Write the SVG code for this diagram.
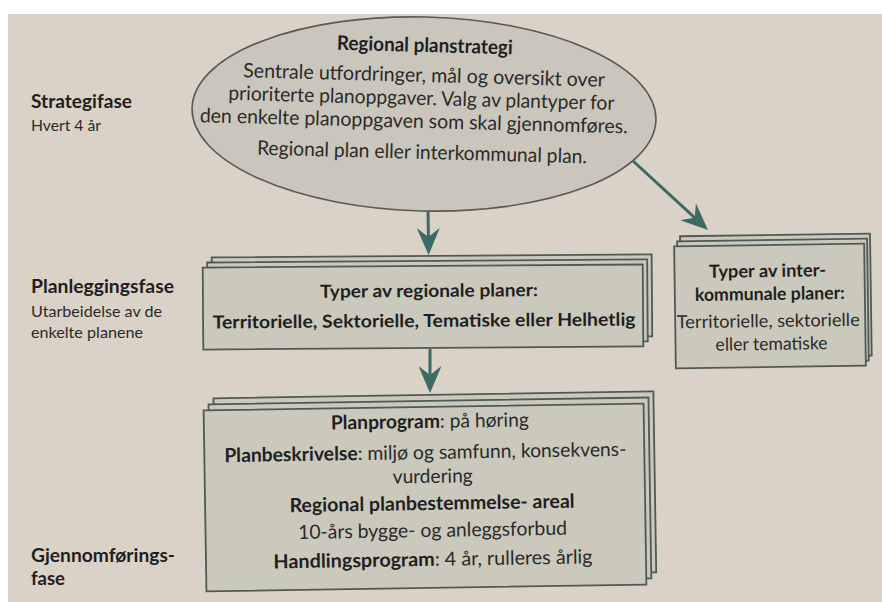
<svg xmlns="http://www.w3.org/2000/svg" width="882" height="602" viewBox="0 0 882 602">
  <style>
    .page { fill: #dad2c6; }
    .card { fill: #cbc8bc; stroke: #4f5a55; stroke-width: 1.8; }
    .oval { fill: #cac6bb; stroke: #5a5a56; stroke-width: 1.6; }
    .link { fill: none; stroke: #3c6a64; stroke-width: 3; }
    .t { font-family: Lato, "Open Sans", "Liberation Sans", sans-serif; fill: #262626; }
    .b { font-weight: 700; fill: #1f1f1f; }
    .r { font-weight: 400; fill: #2a2a2a; }
    .mid { text-anchor: middle; }
    .side { font-size: 16px; }
    .sideb { font-size: 18px; }
    .box { font-size: 18px; }
    .doc { font-size: 19.5px; }
    .ell { font-size: 20px; }
  </style>
  <defs>
    <marker id="head" markerUnits="userSpaceOnUse" markerWidth="27" markerHeight="23" viewBox="0 0 27 23" refX="17" refY="11.5" orient="auto">
      <path d="M0,0 L27,11.5 L0,23 L9,11.5 Z" fill="#3c6a64"/>
    </marker>
  </defs>

  <!-- paper -->
  <rect x="0" y="0" width="882" height="602" fill="#ffffff"/>
  <rect class="page" x="8" y="14" width="874" height="588"/>

  <!-- phase labels -->
  <g id="phase-strategy" class="t">
    <text class="b sideb" x="31" y="108" textLength="101" lengthAdjust="spacingAndGlyphs">Strategifase</text>
    <text class="r side" x="31" y="131" textLength="70" lengthAdjust="spacingAndGlyphs">Hvert 4 år</text>
  </g>
  <g id="phase-planning" class="t">
    <text class="b sideb" x="31" y="293" textLength="143" lengthAdjust="spacingAndGlyphs">Planleggingsfase</text>
    <text class="r side" x="31" y="317" textLength="131" lengthAdjust="spacingAndGlyphs">Utarbeidelse av de</text>
    <text class="r side" x="31" y="338" textLength="112" lengthAdjust="spacingAndGlyphs">enkelte planene</text>
  </g>
  <g id="phase-execution" class="t">
    <text class="b sideb" x="31" y="562" textLength="144" lengthAdjust="spacingAndGlyphs">Gjennomførings-</text>
    <text class="b sideb" x="31" y="585" textLength="34" lengthAdjust="spacingAndGlyphs">fase</text>
  </g>

  <!-- connectors -->
  <g id="connectors">
    <path class="link" d="M428,209 L428.5,245" marker-end="url(#head)"/>
    <path class="link" d="M430,349 L430,383" marker-end="url(#head)"/>
    <path class="link" d="M632,160 L700.6,223.2" marker-end="url(#head)"/>
  </g>

  <!-- regional plan strategy -->
  <g id="node-strategy" transform="rotate(1.5 424 114)">
    <ellipse class="oval" cx="424" cy="114" rx="232" ry="97"/>
    <g class="t mid">
      <text class="b ell" x="423" y="52" textLength="176" lengthAdjust="spacingAndGlyphs">Regional planstrategi</text>
      <text class="r ell" x="423" y="82" textLength="362" lengthAdjust="spacingAndGlyphs">Sentrale utfordringer, mål og oversikt over</text>
      <text class="r ell" x="421" y="105" textLength="386" lengthAdjust="spacingAndGlyphs">prioriterte planoppgaver. Valg av plantyper for</text>
      <text class="r ell" x="414" y="128" textLength="428" lengthAdjust="spacingAndGlyphs">den enkelte planoppgaven som skal gjennomføres.</text>
      <text class="r ell" x="423" y="159" textLength="330" lengthAdjust="spacingAndGlyphs">Regional plan eller interkommunal plan.</text>
    </g>
  </g>

  <!-- regional plan types -->
  <g id="node-regional-types" transform="rotate(-0.4 424 307)">
    <rect class="card" x="212" y="256" width="440" height="82"/>
    <rect class="card" x="207.5" y="261" width="440" height="82"/>
    <rect class="card" x="203" y="266" width="440" height="82"/>
    <g class="t mid b box">
      <text x="429" y="297" textLength="218" lengthAdjust="spacingAndGlyphs">Typer av regionale planer:</text>
      <text x="424" y="327" textLength="423" lengthAdjust="spacingAndGlyphs">Territorielle, Sektorielle, Tematiske eller Helhetlig</text>
    </g>
  </g>

  <!-- inter-municipal plan types -->
  <g id="node-intermunicipal-types" transform="rotate(-0.8 770 306)">
    <rect class="card" x="681" y="235" width="190" height="122"/>
    <rect class="card" x="678" y="240" width="190" height="122"/>
    <rect class="card" x="675" y="245" width="190" height="122"/>
    <g class="t mid box">
      <text class="b" x="768" y="277" textLength="117" lengthAdjust="spacingAndGlyphs">Typer av inter-</text>
      <text class="b" x="770" y="300" textLength="150" lengthAdjust="spacingAndGlyphs">kommunale planer:</text>
      <text class="r" x="768" y="327" textLength="183" lengthAdjust="spacingAndGlyphs">Territorielle, sektorielle</text>
      <text class="r" x="771" y="350" textLength="112" lengthAdjust="spacingAndGlyphs">eller tematiske</text>
    </g>
  </g>

  <!-- plan documents -->
  <g id="node-documents" transform="rotate(-0.9 425 497)">
    <rect class="card" x="215" y="395" width="440" height="181"/>
    <rect class="card" x="210" y="401" width="440" height="181"/>
    <rect class="card" x="205" y="407" width="440" height="181"/>
    <g class="t mid doc">
      <text x="431" y="428" textLength="198" lengthAdjust="spacingAndGlyphs"><tspan class="b">Planprogram</tspan><tspan class="r">: på høring</tspan></text>
      <text x="426" y="459" textLength="402" lengthAdjust="spacingAndGlyphs"><tspan class="b">Planbeskrivelse</tspan><tspan class="r">: miljø og samfunn, konsekvens-</tspan></text>
      <text class="r" x="433" y="483" textLength="80" lengthAdjust="spacingAndGlyphs">vurdering</text>
      <text class="b" x="432" y="510" textLength="285" lengthAdjust="spacingAndGlyphs">Regional planbestemmelse- areal</text>
      <text class="r" x="432" y="537" textLength="269" lengthAdjust="spacingAndGlyphs">10-års bygge- og anleggsforbud</text>
      <text x="432" y="566" textLength="319" lengthAdjust="spacingAndGlyphs"><tspan class="b">Handlingsprogram</tspan><tspan class="r">: 4 år, rulleres årlig</tspan></text>
    </g>
  </g>
</svg>
